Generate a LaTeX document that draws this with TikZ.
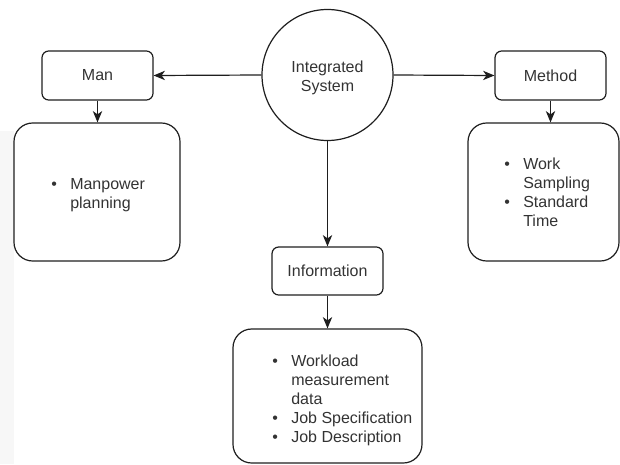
\documentclass[tikz,border=0pt]{standalone}
\usepackage{fontspec}
\setmainfont{Liberation Sans}
\usetikzlibrary{arrows.meta}
\definecolor{txt}{HTML}{333333}
\definecolor{ln}{HTML}{1E1E1E}
\definecolor{side}{HTML}{F7F7F7}
\newcommand{\bul}{\makebox[14.25pt][l]{\textbullet}}
\begin{document}
\begin{tikzpicture}[x=0.75pt,y=-0.75pt,
  every node/.style={font=\fontsize{12}{14.4}\selectfont, text=txt},
  smallbox/.style={draw=ln, line width=0.9pt, rounded corners=5pt, minimum width=83.25pt, minimum height=36.75pt, inner sep=0pt},
  bigbox/.style={draw=ln, line width=0.9pt, rounded corners=14pt, inner sep=0pt},
  hub/.style={draw=ln, line width=0.9pt, circle, minimum size=98.25pt, inner sep=0pt, align=center},
  listtext/.style={inner sep=0pt, anchor=base west, align=left},
  link/.style={draw=ln, line width=0.9pt, -{Stealth[length=8.5pt,width=7pt,inset=2.5pt]}}
]
\useasboundingbox (0,0) rectangle (620,464);
\fill[side] (0,131) rectangle (14,464);

\node[hub] (sys) at (327.5,75) {\raisebox{-5.5pt}[0pt][0pt]{\begin{tabular}{@{}c@{}}Integrated\\System\end{tabular}}};
\node[smallbox] (man) at (97.5,75.5) {Man};
\node[smallbox] (method) at (550.5,75.5) {Method};
\node[smallbox, minimum height=36pt] (info) at (327.5,271) {Information};

\node[bigbox, minimum width=124.5pt, minimum height=103.5pt] (manlist) at (97,192) {};
\node[bigbox, minimum width=113.25pt, minimum height=103.5pt] (methlist) at (543.5,192) {};
\node[bigbox, minimum width=141.75pt, minimum height=100.5pt] (infolist) at (327.5,396) {};

\node[listtext] (mantext) at (51,189) {\begin{tabular}[t]{@{}l@{}l@{}}\bul & Manpower\\ & planning\end{tabular}};
\node[listtext] (methtext) at (504,169) {\begin{tabular}[t]{@{}l@{}l@{}}\bul & Work\\ & Sampling\\ \bul & Standard\\ & Time\end{tabular}};
\node[listtext] (infotext) at (272,366) {\begin{tabular}[t]{@{}l@{}l@{}}\bul & Workload\\ & measurement\\ & data\\ \bul & Job Specification\\ \bul & Job Description\end{tabular}};

\draw[link] (sys.west) -- (man.east);
\draw[link] (sys.east) -- (method.west);
\draw[link] (sys.south) -- (info.north);
\draw[link] (man.south) -- (man.south |- manlist.north);
\draw[link] (method.south) -- (method.south |- methlist.north);
\draw[link] (info.south) -- (info.south |- infolist.north);
\end{tikzpicture}
\end{document}
